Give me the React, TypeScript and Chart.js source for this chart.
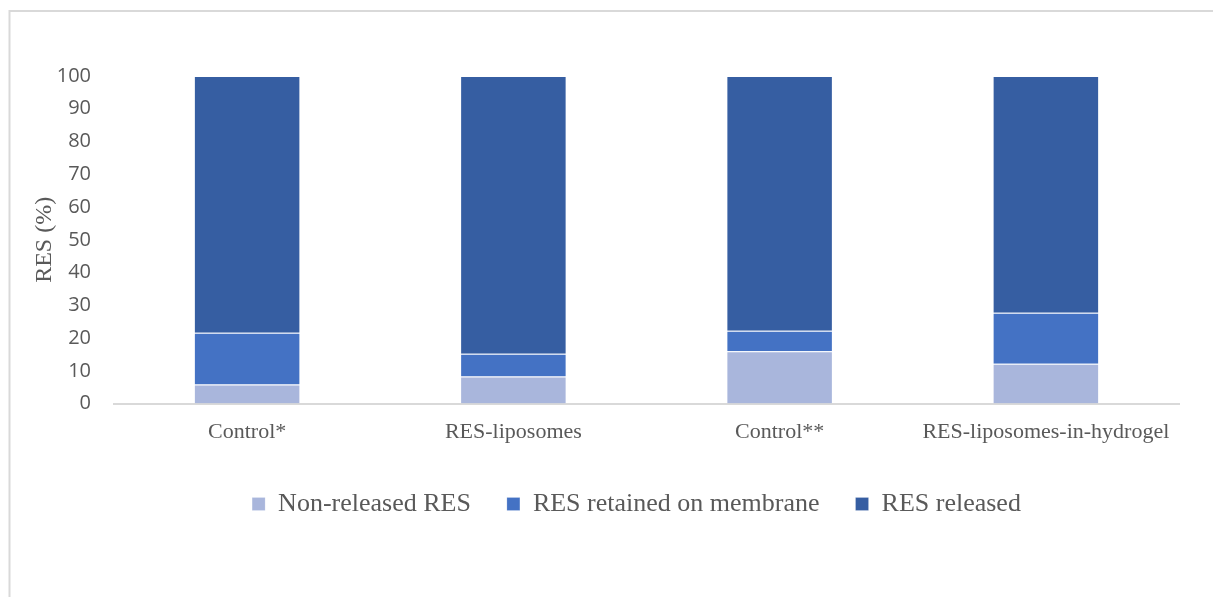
import React, { useEffect, useRef } from "react";
import { Chart, registerables } from "chart.js";

Chart.register(...registerables);

const categories = ["Control*", "RES-liposomes", "Control**", "RES-liposomes-in-hydrogel"];
const nonReleased = [5.8, 8.3, 16.0, 12.2];
const retained = [15.8, 6.9, 6.2, 15.5];
const released = [78.4, 84.8, 77.8, 72.3];
const seriesNames = ["Non-released RES", "RES retained on membrane", "RES released"];
const yTicks = [0, 10, 20, 30, 40, 50, 60, 70, 80, 90, 100];

const frame = {
  id: "frame",
  beforeDraw(chart: any) {
    const ctx = chart.ctx;
    ctx.save();
    ctx.fillStyle = "#ffffff";
    ctx.fillRect(0, 0, chart.width, chart.height);
    ctx.strokeStyle = "#d9d9d9";
    ctx.lineWidth = 2;
    ctx.strokeRect(9.5, 11, 1400, 800);
    ctx.restore();
  },
};

const legendShift = {
  id: "legendShift",
  afterLayout(chart: any) {
    const l = chart.legend;
    if (!l) return;
    const dx = 47;
    const dy = -5;
    l.left += dx;
    l.right += dx;
    l.top += dy;
    l.bottom += dy;
  },
};

export default function App() {
  const ref = useRef<HTMLCanvasElement | null>(null);
  useEffect(() => {
    if (!ref.current) return;
    const serif = "'Liberation Serif', 'Times New Roman', serif";
    const edge = "rgba(255,255,255,0.18)";
    const chart = new Chart(ref.current, {
      type: "bar",
      data: {
        labels: categories,
        datasets: [
          { label: seriesNames[0], data: nonReleased, backgroundColor: "#a9b6dc", borderColor: edge, borderWidth: 1 },
          { label: seriesNames[1], data: retained, backgroundColor: "#4472c4", borderColor: edge, borderWidth: 1 },
          { label: seriesNames[2], data: released, backgroundColor: "#365ea2", borderColor: edge, borderWidth: 1 },
        ],
      },
      options: {
        responsive: false,
        animation: false,
        layout: { padding: { top: 76, left: 0, right: 34, bottom: 65 } },
        datasets: { bar: { categoryPercentage: 1, barPercentage: 0.4 } },
        plugins: {
          tooltip: { enabled: false },
          legend: {
            position: "bottom",
            labels: {
              boxWidth: 13,
              boxHeight: 13,
              padding: 36,
              color: "#595959",
              font: { family: serif, size: 26 },
            },
          },
        },
        scales: {
          x: {
            stacked: true,
            grid: { display: false, drawTicks: false },
            border: { display: true, color: "#d9d9d9", width: 2 },
            ticks: { color: "#595959", padding: 15, font: { family: serif, size: 22 }, maxRotation: 0 },
          },
          y: {
            stacked: true,
            min: 0,
            max: 100,
            afterBuildTicks: (s: any) => {
              s.ticks = yTicks.map((v) => ({ value: v }));
            },
            afterFit: (s: any) => {
              s.width = 114;
            },
            grid: { display: false, drawTicks: false },
            border: { display: false },
            ticks: { color: "#595959", padding: 23, font: { family: "'Open Sans', sans-serif", size: 20 } },
            title: {
              display: true,
              text: "RES (%)",
              color: "#595959",
              padding: { top: 30, bottom: 0 },
              font: { family: serif, size: 24 },
            },
          },
        },
      },
      plugins: [frame, legendShift],
    });
    return () => chart.destroy();
  }, []);
  return (
    <div style={{ position: "fixed", left: 0, top: 0, width: 1213, height: 597 }}>
      <canvas ref={ref} width={1213} height={597} style={{ display: "block" }} />
    </div>
  );
}
